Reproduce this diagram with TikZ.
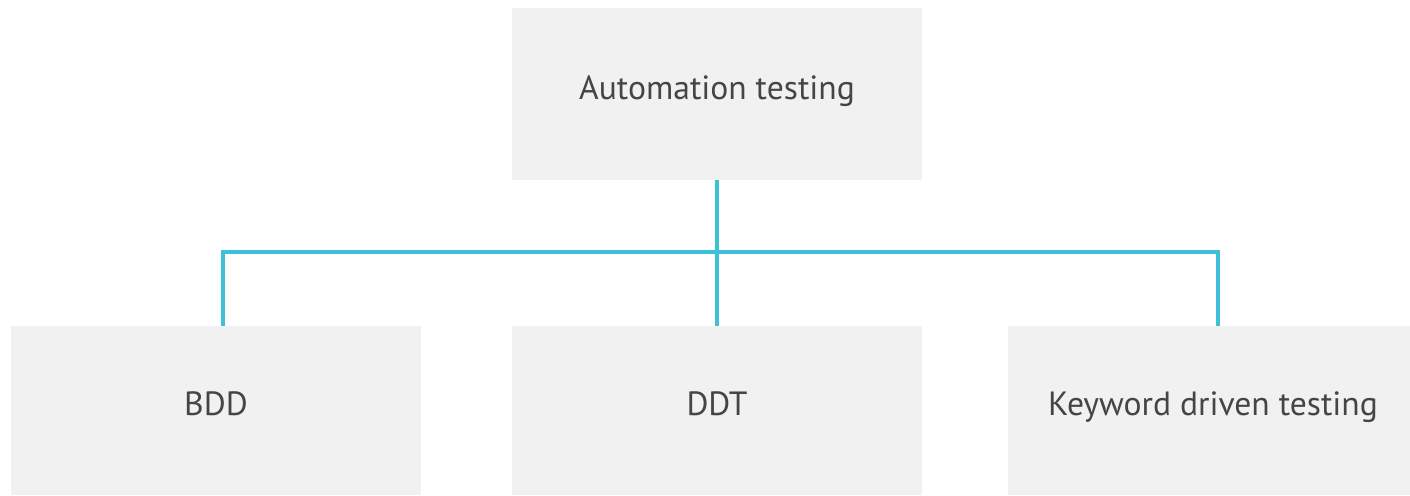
\documentclass[tikz,border=0pt]{standalone}
\usepackage{fontspec}
\setmainfont{PT Sans}
\definecolor{boxfill}{HTML}{F1F1F1}
\definecolor{linecol}{HTML}{3CC1D6}
\definecolor{textcol}{HTML}{454545}
\begin{document}
\begin{tikzpicture}[x=1pt,y=-1pt,
  box/.style={draw=none,fill=boxfill,minimum width=410pt,inner sep=0pt,
    text=textcol,font=\fontsize{33.6}{38}\selectfont,text height=20pt,text depth=10pt},
  conn/.style={draw=linecol,line width=4pt,line join=miter}]
\useasboundingbox (0,0) rectangle (1410,495);
\node[box,minimum height=172pt] (top) at (717,94) {Automation testing};
\node[box,minimum height=169pt] (bdd) at (216,410.5) {BDD};
\node[box,minimum height=169pt] (ddt) at (717,410.5) {DDT};
\node[box,minimum height=169pt] (kdt) at (1213,410.5) {Keyword driven testing};
\coordinate (hub) at (717,252);
\draw[conn] (top.south) -- (hub);
\draw[conn] (hub) -| ([xshift=6.7pt]bdd.north);
\draw[conn] (hub) -- (ddt.north);
\draw[conn] (hub) -| ([xshift=4.7pt]kdt.north);
\end{tikzpicture}
\end{document}
